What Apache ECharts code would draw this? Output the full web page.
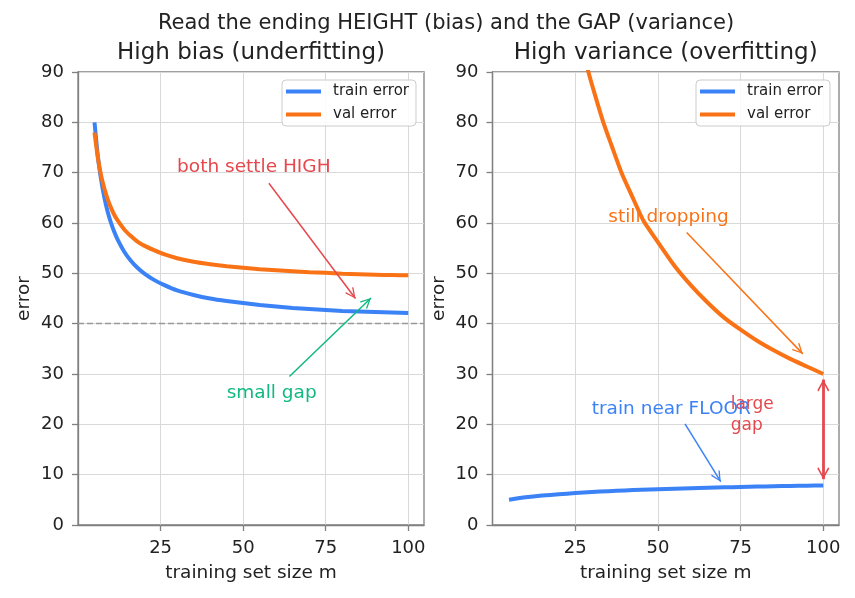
<!DOCTYPE html>
<html><head><meta charset="utf-8">
<script src="https://cdn.jsdelivr.net/npm/echarts@6/dist/echarts.min.js"></script>
<style>html,body{margin:0;padding:0;background:#fff}#c{width:855px;height:598px}</style>
</head><body><div id="c"></div><script>
// ---- data ----
const mBias = [5, 6, 7, 8, 9, 10, 11, 12, 14, 16, 18, 20, 23, 26, 30, 35, 40, 45, 50, 55, 60, 65, 70, 75, 80, 85, 90, 95, 100];
const trainBias = [80, 73.3, 68.6, 65, 62.2, 60, 58.2, 56.7, 54.3, 52.5, 51.1, 50, 48.7, 47.7, 46.6, 45.7, 45, 44.5, 44.1, 43.7, 43.4, 43.1, 42.9, 42.7, 42.5, 42.4, 42.3, 42.2, 42.1];
const valBias = [78, 73, 69.4, 66.8, 64.7, 63, 61.6, 60.5, 58.7, 57.4, 56.3, 55.5, 54.6, 53.8, 53, 52.3, 51.8, 51.4, 51.1, 50.8, 50.6, 50.4, 50.2, 50.1, 49.9, 49.8, 49.7, 49.65, 49.6];
const mVarTrain = [5, 10, 15, 20, 25, 30, 35, 40, 45, 50, 55, 60, 65, 70, 75, 80, 85, 90, 95, 100];
const trainVar = [5, 5.5, 5.85, 6.1, 6.35, 6.55, 6.72, 6.87, 7.0, 7.1, 7.2, 7.3, 7.4, 7.48, 7.56, 7.63, 7.7, 7.76, 7.8, 7.85];
const mVarVal = [25, 27, 29, 31, 33.5, 36, 39, 42, 45.6, 50, 55, 60, 65, 70, 75, 80, 85, 90, 95, 100];
const valVar = [102, 95.5, 90, 85.4, 80, 75.4, 70, 65.6, 60.5, 56.2, 51.5, 47.6, 44.2, 41.2, 38.8, 36.6, 34.7, 33, 31.5, 30];
const xTicks = [25, 50, 75, 100];
const floorLine = 40;

const BLUE = '#3b82f6', ORANGE = '#f97316', RED = '#e5484d', GREEN = '#10b981';
const F = 'DejaVu Sans';
const SPINE = '#808080';

const zip = (xs, ys) => xs.map((x, i) => [x, ys[i]]);

// annotation texts and arrows (data coordinates)
const textsLeft = [
  {t: 'both settle HIGH', at: [30, 70], c: RED, s: 18.5},
  {t: 'small gap', at: [45, 25], c: GREEN, s: 18.5}
];
const textsRight = [
  {t: 'still dropping', at: [35, 60], c: ORANGE, s: 18.5},
  {t: 'train near FLOOR', at: [30, 22], c: BLUE, s: 18.5},
  {t: 'large', at: [72, 23], c: RED, s: 17},
  {t: 'gap', at: [72, 18.8], c: RED, s: 17}
];
const arrowsLeft = [
  {from: [57.8, 67.9], to: [84.0, 45.0], c: RED},
  {from: [64.0, 29.5], to: [88.7, 45.1], c: GREEN}
];
const arrowsRight = [
  {from: [58.7, 58.1], to: [93.8, 34.0], c: ORANGE},
  {from: [58.2, 20.1], to: [69.0, 8.6], c: BLUE}
];
const gapArrow = {from: [100, 28.9], to: [100, 9.1], c: RED};

const HEAD = 'path://M5,0 L10,9 L9,10 L5,2.4 L1,10 L0,9 Z M5,-10 L5,-10.01';

function arrowData(list) {
  return list.map(a => [
    {coord: a.from, symbol: 'none', lineStyle: {color: a.c, width: 1.5, type: 'solid'}},
    {coord: a.to, symbol: HEAD, symbolSize: [10, 22], itemStyle: {color: a.c}}
  ]);
}

function xAxis(gi) {
  return {
    type: 'value', gridIndex: gi, min: 0, max: 104.75, interval: 25,
    name: 'training set size m', nameLocation: 'middle', nameGap: 39,
    nameTextStyle: {fontSize: 18.5, color: '#222', fontFamily: F},
    axisLine: {show: true, onZero: false, lineStyle: {color: SPINE, width: 1.3}},
    axisTick: {show: true, length: 6, customValues: xTicks, lineStyle: {color: SPINE, width: 1.3}},
    axisLabel: {fontSize: 18, color: '#222', fontFamily: F, margin: 14.5, customValues: xTicks},
    splitLine: {show: true, lineStyle: {color: '#d9d9d9', width: 1}}
  };
}
function yAxis(gi) {
  return {
    type: 'value', gridIndex: gi, min: 0, max: 90, interval: 10,
    name: 'error', nameLocation: 'middle', nameGap: 44, nameRotate: 90,
    nameTextStyle: {fontSize: 18.5, color: '#222', fontFamily: F},
    axisLine: {show: true, onZero: false, lineStyle: {color: SPINE, width: 1.3}},
    axisTick: {show: true, length: 6, lineStyle: {color: SPINE, width: 1.3}},
    axisLabel: {fontSize: 18, color: '#222', fontFamily: F, margin: 14},
    splitLine: {show: true, lineStyle: {color: '#d9d9d9', width: 1}}
  };
}
function legend(left) {
  return {
    left: left, top: 80, orient: 'vertical', icon: 'rect', itemWidth: 35, itemHeight: 4,
    itemGap: 8, padding: [4, 7, 4, 4], borderColor: '#cccccc', borderWidth: 1, borderRadius: 4,
    backgroundColor: 'rgba(255,255,255,0.85)',
    textStyle: {fontSize: 15, color: '#222', fontFamily: F, padding: [0, 0, 0, 7]},
    data: ['train error', 'val error']
  };
}
function lineSeries(name, color, xi, data, extra) {
  return Object.assign({
    type: 'line', name: name, xAxisIndex: xi, yAxisIndex: xi, data: data,
    showSymbol: false, smooth: 0.2, clip: true,
    lineStyle: {color: color, width: 4, join: 'round', cap: 'butt'}, itemStyle: {color: color},
    emphasis: {disabled: true}
  }, extra || {});
}

const chart = echarts.init(document.getElementById('c'), null, {renderer: 'canvas'});
chart.setOption({
  animation: false,
  backgroundColor: '#fff',
  textStyle: {fontFamily: F},
  grid: [
    {left: 78, top: 72, width: 346, height: 453, show: true, borderColor: SPINE, borderWidth: 1.3, backgroundColor: 'transparent'},
    {left: 492.5, top: 72, width: 346.5, height: 453, show: true, borderColor: SPINE, borderWidth: 1.3, backgroundColor: 'transparent'}
  ],
  xAxis: [xAxis(0), xAxis(1)],
  yAxis: [yAxis(0), yAxis(1)],
  legend: [legend(282), legend(696)],
  series: [
    lineSeries('train error', BLUE, 0, zip(mBias, trainBias), {
      markLine: {silent: true, symbol: 'none', label: {show: false}, animation: false,
        lineStyle: {color: '#999', type: [6, 3], width: 1.3},
        data: [{yAxis: floorLine}]}
    }),
    lineSeries('val error', ORANGE, 0, zip(mBias, valBias), {
      markLine: {silent: true, label: {show: false}, animation: false,
        lineStyle: {type: 'solid'}, data: arrowData(arrowsLeft)}
    }),
    lineSeries('train error', BLUE, 1, zip(mVarTrain, trainVar), {
      markLine: {silent: true, label: {show: false}, animation: false,
        lineStyle: {type: 'solid'},
        data: arrowData(arrowsRight).concat([[
          {coord: gapArrow.from, symbol: HEAD, symbolSize: [12, 24], itemStyle: {color: gapArrow.c}, lineStyle: {color: gapArrow.c, width: 2.8, type: 'solid'}},
          {coord: gapArrow.to, symbol: HEAD, symbolSize: [12, 24], itemStyle: {color: gapArrow.c}}
        ]])}
    }),
    lineSeries('val error', ORANGE, 1, zip(mVarVal, valVar))
  ]
});

// titles and annotation texts (placed through the chart's own scales)
const g = [
  {type: 'text', x: 446, y: 23.5, style: {text: 'Read the ending HEIGHT (bias) and the GAP (variance)', font: '21px "DejaVu Sans"', fill: '#222', align: 'center', verticalAlign: 'middle'}},
  {type: 'text', x: 251, y: 53.5, style: {text: 'High bias (underfitting)', font: '23px "DejaVu Sans"', fill: '#222', align: 'center', verticalAlign: 'middle'}},
  {type: 'text', x: 665.7, y: 53.5, style: {text: 'High variance (overfitting)', font: '23px "DejaVu Sans"', fill: '#222', align: 'center', verticalAlign: 'middle'}}
];
function addTexts(list, gi) {
  list.forEach(o => {
    const p = chart.convertToPixel({gridIndex: gi}, o.at);
    g.push({type: 'text', x: p[0], y: p[1] - 0.3 * o.s, z: 100,
      style: {text: o.t, font: o.s + 'px "DejaVu Sans"', fill: o.c, align: 'left', verticalAlign: 'middle'}});
  });
}
addTexts(textsLeft, 0);
addTexts(textsRight, 1);
chart.setOption({graphic: g});
</script></body></html>
